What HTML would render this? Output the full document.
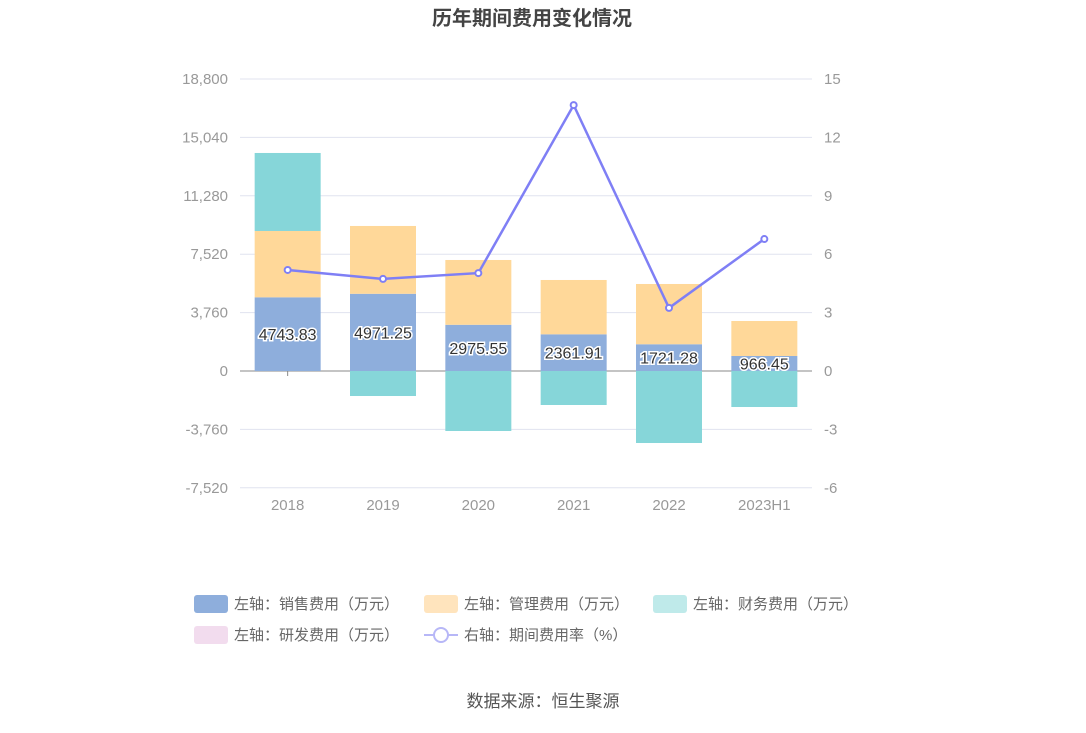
<!DOCTYPE html>
<html><head><meta charset="utf-8">
<style>
body{margin:0;background:#fff;}
svg text{font-family:"Liberation Sans","Noto Sans CJK SC",sans-serif;}
</style></head>
<body>
<svg id="chart" width="1086" height="728" xmlns="http://www.w3.org/2000/svg">
<text x="532" y="25" text-anchor="middle" font-size="20" font-weight="bold" fill="#444">历年期间费用变化情况</text>
<g id="grid"></g><g id="bars"></g><g id="line"></g><g id="axes"></g>
<g font-size="15" fill="#666">
<g><rect x="194" y="595" width="34" height="18" rx="3" fill="#8eaedc"/><text x="234" y="609" fill="#666">左轴：销售费用（万元）</text></g>
<g><rect x="424" y="595" width="34" height="18" rx="3" fill="#ffe4bd"/><text x="464" y="609" fill="#666">左轴：管理费用（万元）</text></g>
<g><rect x="653" y="595" width="34" height="18" rx="3" fill="#bfeaea"/><text x="693" y="609" fill="#666">左轴：财务费用（万元）</text></g>
<g><rect x="194" y="626" width="34" height="18" rx="3" fill="#f2dcee"/><text x="234" y="640" fill="#666">左轴：研发费用（万元）</text></g>
<g><line x1="424" y1="635" x2="458" y2="635" stroke="#b7b7f7" stroke-width="2"/><circle cx="441" cy="635" r="7" fill="#fff" stroke="#b7b7f7" stroke-width="2"/><text x="464" y="640" fill="#666">右轴：期间费用率（%）</text></g>
</g>
<text x="543" y="707" text-anchor="middle" font-size="17" fill="#555">数据来源：恒生聚源</text>
</svg>
<script>
const categories=["2018","2019","2020","2021","2022","2023H1"];
const sales=[4743.83,4971.25,2975.55,2361.91,1721.28,966.45];
const management=[4271,4366,4172,3498,3881,2253];
const finance=[5022,-1610,-3863,-2189,-4636,-2318];
const rd=[0,0,0,0,0,0];
const rate=[5.19,4.73,5.03,13.66,3.24,6.78];
const leftTicks=[-7520,-3760,0,3760,7520,11280,15040,18800];
const rightTicks=[-6,-3,0,3,6,9,12,15];
const NS="http://www.w3.org/2000/svg";
const x0=240,x1=812,yTop=79,yBot=487;
const yL=v=>371-(v-0)*(371-yTop)/18800;
const yR=v=>371-v*(371-yTop)/15;
const band=(x1-x0)/categories.length;
const xc=i=>x0+band*(i+0.5);
function mk(tag,attrs,parent){const e=document.createElementNS(NS,tag);for(const k in attrs)e.setAttribute(k,attrs[k]);document.getElementById(parent).appendChild(e);return e;}
leftTicks.forEach((t,i)=>{
 const y=yL(t);
 const g=mk("line",{x1:x0,x2:x1,y1:y,y2:y,stroke:t===0?"#888":"#e0e3ef","stroke-width":1},"grid");
 
 
 const tl=mk("text",{x:228,y:y+5,"text-anchor":"end","font-size":15,fill:"#999"},"axes");
 tl.textContent=t.toLocaleString("en-US");
 
 
});
rightTicks.forEach(t=>{
 const tr=mk("text",{x:824,y:yR(t)+5,"font-size":15,fill:"#999"},"axes");
 tr.textContent=t;
 
 
});
const bw=66;
categories.forEach((c,i)=>{
 const cx=xc(i);
 const xl=mk("text",{x:cx,y:510,"text-anchor":"middle","font-size":15,fill:"#999"},"axes");
 xl.textContent=c;
 
 
 let pos=0,neg=0;
 [[sales,"#8eaedc","bar-sales"],[management,"#ffd899","bar-management"],[finance,"#86d6d9","bar-finance"],[rd,"#f0d4ea","bar-rd"]].forEach(([arr,col,name])=>{
  const v=arr[i]; if(!v)return;
  let a,b;
  if(v>=0){a=pos;b=pos+v;pos=b;}else{a=neg;b=neg+v;neg=b;}
  const r=mk("rect",{x:cx-bw/2,y:Math.min(yL(a),yL(b)),width:bw,height:Math.abs(yL(a)-yL(b)),fill:col},"bars");
  
  
 });
 const lb=mk("text",{x:cx,y:(yL(0)+yL(sales[i]))/2+6,"text-anchor":"middle","font-size":16,fill:"#333",stroke:"#fff","stroke-width":3,"paint-order":"stroke"},"bars");
 lb.textContent=sales[i].toFixed(2).replace(/\.?0+$/,m=>m.startsWith('.')&&m.length>1?m.replace(/0+$/,'').replace(/\.$/,''):m);
 lb.textContent=String(sales[i]);
 
 
});
mk("line",{x1:xc(0),x2:xc(0),y1:371,y2:376,stroke:"#888"},"axes");
const pts=rate.map((v,i)=>xc(i)+","+yR(v)).join(" ");
const pl=mk("polyline",{points:pts,fill:"none",stroke:"#7f7ff5","stroke-width":2.5},"line");


rate.forEach((v,i)=>{
 const p=mk("circle",{cx:xc(i),cy:yR(v),r:3,fill:"#fff",stroke:"#7f7ff5","stroke-width":2},"line");
 
 
});
</script>
</body></html>
